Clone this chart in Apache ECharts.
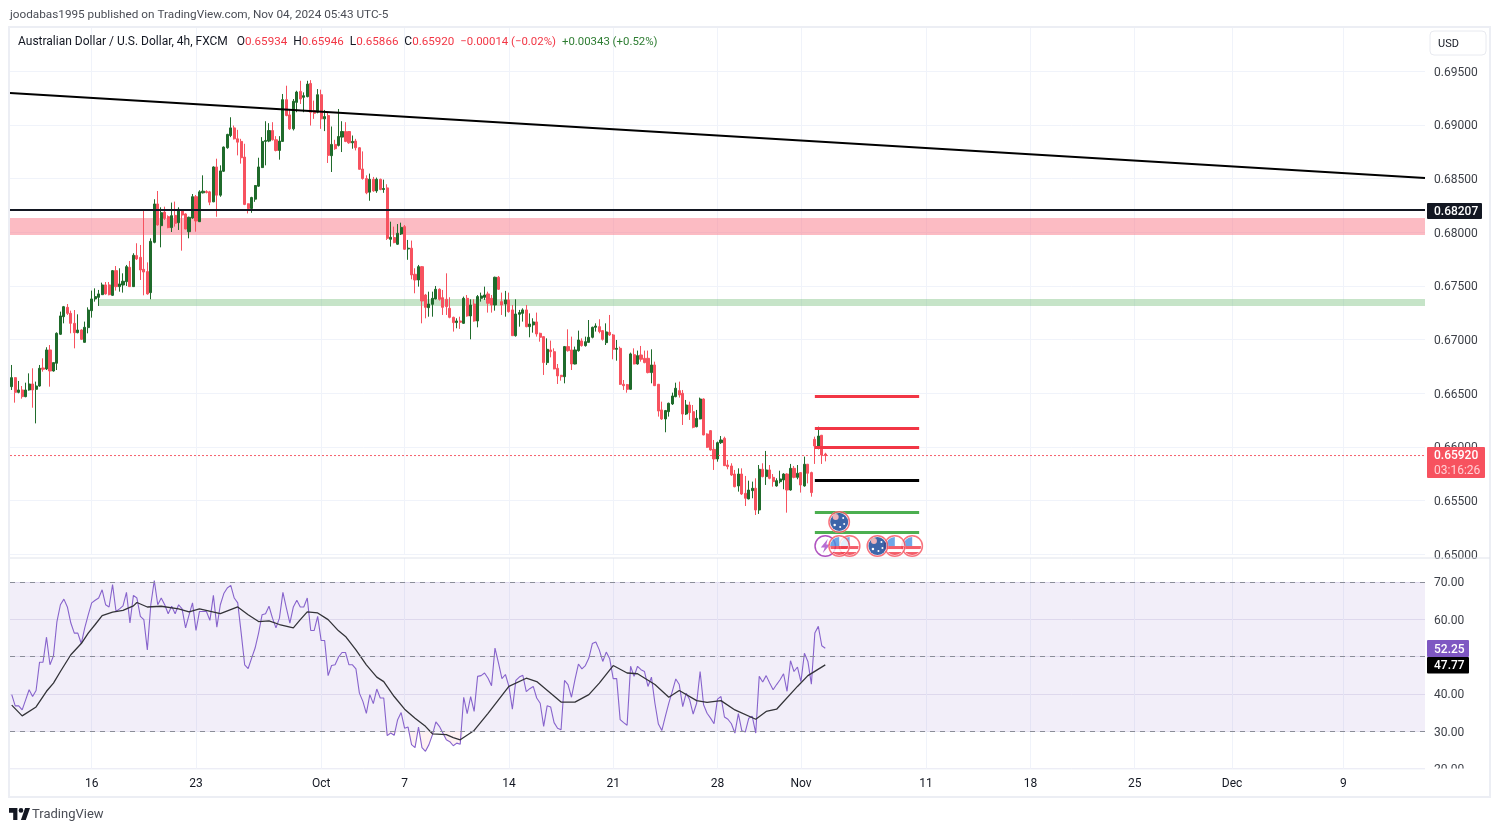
<!DOCTYPE html>
<html>
<head>
<meta charset="utf-8">
<title>AUD/USD 4h</title>
<script src="https://cdn.jsdelivr.net/npm/echarts@6/dist/echarts.min.js"></script>
<style>
  html, body { margin: 0; padding: 0; background: #fff; }
  #chart { width: 1500px; height: 831px; }
</style>
</head>
<body>
<div id="chart"></div>
<script>
// all OHLC prices are in points (1/100000 of a dollar)
const opens = [
  66562,66646,66509,66531,66469,66531,66587,66537,66568,66736,
  66727,66904,66708,66780,67050,67214,67301,67245,67152,67065,
  67090,66975,67112,67270,67379,67394,67419,67510,67510,67413,
  67643,67494,67509,67540,67674,67494,67783,67767,67655,67634,
  67438,67907,68264,68062,68189,68146,68044,68158,68090,68208,
  68171,68006,68133,68332,68099,68368,68380,68377,68284,68609,
  68346,68569,68788,68902,68973,68871,68847,68701,68266,68222,
  68309,68430,68603,68847,68850,68948,68862,68763,68847,69236,
  69094,68964,69211,69313,69258,69264,69387,69134,69119,69282,
  69057,69088,68714,68819,68810,68887,68939,68939,68834,68850,
  68788,68590,68501,68374,68494,68386,68494,68399,68414,67935,
  67951,67889,67985,68053,67845,67852,67609,67556,67680,67416,
  67298,67329,67379,67469,67391,67376,67292,67208,67159,67174,
  67152,67385,67221,67332,67174,67385,67394,67426,67385,67323,
  67581,67354,67332,67370,67277,67037,67236,67245,67277,67121,
  67137,67165,67059,67028,66786,66904,66888,66733,66668,66655,
  66935,66904,66773,66897,66988,66944,66975,67022,67115,67121,
  67084,66972,67068,67044,66910,66919,66584,66581,66537,66860,
  66773,66857,66826,66826,66693,66764,66584,66345,66261,66329,
  66401,66469,66525,66500,66307,66391,66329,66189,66261,66447,
  66121,66152,65978,65888,66040,66081,65832,65823,65748,65637,
  65748,65568,65516,65593,65615,65413,65792,65724,65786,65717,
  65637,65677,65693,65748,65599,65801,65717,65761,65637,65839,
  65761,66071,65988,66109,65934
];
const closes = [
  66646,66509,66531,66469,66531,66587,66531,66568,66733,66724,
  66904,66708,66786,67059,67221,67307,67245,67152,67065,67090,
  67003,67115,67276,67379,67401,67426,67510,67426,67419,67643,
  67494,67519,67544,67680,67494,67786,67752,67649,67630,67426,
  67916,68264,68069,68183,68130,68044,68155,68084,68214,68161,
  68031,68140,68332,68106,68377,68383,68371,68281,68609,68346,
  68572,68794,68912,68973,68871,68840,68695,68260,68222,68324,
  68436,68609,68847,68856,68948,68862,68763,68850,69236,69088,
  68964,69221,69307,69242,69273,69381,69119,69109,69282,69057,
  69078,68717,68819,68779,68893,68939,68847,68834,68847,68788,
  68587,68501,68368,68494,68386,68494,68399,68408,67944,67954,
  67904,67991,68046,67842,67852,67603,67556,67680,67360,67301,
  67332,67385,67469,67376,67301,67308,67208,67159,67174,67162,
  67385,67221,67323,67174,67401,67407,67416,67339,67323,67581,
  67469,67323,67370,67261,67037,67239,67252,67277,67121,67146,
  67165,67053,67022,66786,66910,66888,66727,66662,66655,66935,
  66897,66773,66904,66997,66944,66981,67022,67115,67127,67075,
  67003,67072,67044,66910,66919,66584,66571,66537,66867,66773,
  66851,66817,66786,66693,66764,66571,66335,66261,66339,66407,
  66475,66547,66485,66307,66391,66320,66183,66267,66447,66112,
  65997,65972,65888,66040,66065,65826,65817,65739,65630,65748,
  65562,65522,65599,65615,65413,65792,65724,65786,65708,65677,
  65686,65702,65748,65599,65801,65717,65755,65646,65839,65755,
  65575,66009,66102,65925,65920
];
const lows = [
  66531,66413,66500,66450,66463,66525,66366,66220,66562,66702,
  66717,66562,66702,66717,67043,67152,67230,67059,66919,67059,
  66997,66972,67059,67205,67354,67314,67416,67419,67413,67407,
  67457,67447,67438,67500,67491,67491,67742,67556,67413,67419,
  67376,67898,68062,67860,68115,68038,68003,68053,68022,67829,
  68028,67944,68127,68006,68096,68362,68362,68253,68281,68145,
  68331,68562,68779,68887,68865,68717,68640,68253,68176,68182,
  68284,68423,68599,68624,68840,68856,68754,68677,68844,69081,
  68955,68949,69119,69196,69119,69258,68995,69057,69109,68964,
  68943,68646,68562,68769,68800,68748,68840,68825,68779,68763,
  68584,68491,68355,68294,68377,68368,68392,68368,67929,67867,
  67898,67883,67975,67836,67744,67562,67432,67494,67152,67199,
  67214,67214,67376,67364,67230,67230,67199,67075,67106,67100,
  67146,67214,67003,67168,67115,67354,67370,67252,67252,67270,
  67463,67230,67214,67252,67034,67028,67121,67168,67115,67022,
  67065,67028,66981,66671,66764,66835,66724,66587,66618,66593,
  66888,66717,66770,66888,66935,66935,66972,67012,67075,67059,
  66991,66950,67034,66817,66804,66578,66531,66506,66531,66770,
  66767,66795,66780,66686,66593,66568,66283,66252,66137,66283,
  66391,66463,66460,66205,66298,66252,66174,66183,66258,66109,
  65991,65966,65786,65863,66028,65823,65792,65730,65624,65584,
  65553,65450,65512,65522,65366,65376,65717,65646,65699,65630,
  65630,65661,65606,65388,65593,65708,65699,65575,65630,65661,
  65537,65842,65978,65842,65866
];
const highs = [
  66764,66650,66615,66568,66599,66686,66733,66609,66764,66826,
  66929,66950,66786,67068,67261,67314,67332,67270,67276,67236,
  67096,67168,67301,67457,67478,67463,67531,67537,67537,67649,
  67686,67665,67618,67696,67733,67805,67898,67882,68202,67720,
  67944,68308,68385,68233,68239,68158,68277,68286,68233,68217,
  68177,68146,68357,68348,68392,68531,68392,68386,68615,68686,
  68624,68800,68918,69072,68995,68955,68871,68825,68269,68331,
  68439,68695,68887,69035,69017,69026,68896,68896,69289,69366,
  69149,69242,69319,69412,69304,69412,69418,69227,69335,69329,
  69140,69119,68986,68862,69149,69035,69026,68942,68902,68871,
  68794,68754,68531,68547,68516,68510,68500,68491,68448,68099,
  68053,68077,68090,68068,67929,67923,67665,67696,67686,67426,
  67447,67447,67500,67478,67463,67618,67395,67214,67199,67214,
  67401,67416,67376,67376,67416,67438,67494,67447,67416,67587,
  67593,67438,67454,67438,67323,67376,67277,67292,67323,67245,
  67199,67252,67065,67034,67012,66991,66919,66773,66671,66941,
  67096,67028,66935,67084,67012,67028,67183,67121,67152,67190,
  67090,67152,67230,67053,66997,66935,66624,66587,66879,66919,
  66898,66941,66898,66898,66910,66795,66587,66422,66345,66413,
  66506,66599,66609,66531,66438,66422,66391,66345,66460,66453,
  66127,66158,66065,66050,66102,66096,65879,65848,65786,65801,
  65801,65730,65686,65677,65708,65832,65848,65963,65832,65748,
  65708,65779,65755,65755,65842,65823,65832,65761,65910,65842,
  65770,66096,66189,66112,65946
];
const rsi = [
  39.8,36.8,36.8,35.7,38.4,41.1,39.3,40.9,48.5,48.5,
  55.2,47.8,50.2,59.4,63.9,65.4,63.3,59.0,56.3,56.3,
  53.5,57.7,61.2,64.4,65.1,65.7,67.9,63.9,63.3,69.3,
  62.1,62.8,63.6,67.2,59.0,66.4,65.7,60.8,59.9,51.8,
  63.9,70.4,63.9,65.7,63.9,61.5,63.5,61.5,63.9,62.8,
  57.7,61.2,64.4,57.0,62.1,62.1,62.1,59.7,66.4,57.9,
  63.9,66.9,68.4,69.1,65.7,64.4,56.3,47.8,46.8,49.6,
  52.3,56.3,61.2,61.5,63.5,60.3,57.7,60.3,67.2,63.0,
  59.0,63.3,65.1,63.3,63.3,65.7,57.0,57.0,60.8,54.3,
  54.3,44.9,47.6,47.8,49.9,51.1,51.1,47.8,47.8,46.7,
  40.2,38.0,34.8,39.8,37.4,41.3,38.9,38.9,28.8,29.5,
  28.9,33.1,35.0,30.8,31.1,26.4,25.6,31.1,25.6,24.6,
  26.4,29.0,32.5,31.3,29.5,27.7,27.2,26.1,26.8,26.5,
  39.1,34.7,39.3,35.3,44.7,44.9,45.6,44.2,42.2,52.3,
  48.3,44.1,45.2,42.0,35.9,43.6,44.5,45.0,40.6,41.4,
  42.0,38.9,37.5,31.3,36.8,36.5,32.3,30.8,30.4,43.6,
  42.5,39.1,43.8,48.0,46.7,47.6,49.6,53.5,53.9,51.8,
  48.7,51.2,49.4,44.1,44.1,33.1,32.3,31.6,47.4,44.7,
  47.4,46.5,46.0,42.0,44.5,37.5,31.9,30.2,34.0,37.5,
  40.7,44.0,42.5,36.6,40.2,38.4,34.6,37.5,46.0,37.1,
  34.8,33.5,32.0,38.6,39.3,33.8,33.2,32.0,29.5,34.7,
  30.1,29.8,33.5,34.0,29.5,44.7,43.2,44.9,42.9,41.1,
  42.5,43.8,45.4,40.7,48.9,46.0,47.2,43.3,50.9,48.7,
  42.6,56.3,58.1,52.9,52.25
];
// moving average of the RSI, read at its visible corners
const rsiMaBars = [0,3,7,10,12,14,17,20,22,24,26,29,32,35,36,39,43,48,51,54,60,65,68,71,74,77,81,83,85,88,91,94,96,99,102,105,107,110,113,116,119,121,125,127,129,133,137,140,143,148,151,158,162,166,169,173,177,180,185,189,192,197,200,204,208,214,217,220,226,229,234];
const rsiMaValues = [37.0,34.1,36.5,40.7,42.9,46.0,50.5,53.5,56.3,58.6,61.0,61.9,62.4,63.6,64.5,63.3,63.5,62.8,62.0,62.8,61.5,63.3,61.2,59.4,59.6,58.6,57.7,59.9,62.0,61.7,59.9,56.9,55.4,51.8,47.8,44.5,43.3,39.3,35.9,33.5,31.3,29.3,29.1,28.3,27.7,30.2,34.8,38.4,42.0,44.2,43.3,37.8,37.8,39.8,42.9,47.6,45.6,45.4,42.5,39.1,40.9,38.2,37.7,38.2,35.7,33.2,35.3,35.9,42.0,44.9,47.77];

const barCount = 407;
const tickBars = [23,53,89,113,143,173,203,227,263,293,323,351,383];
const tickLabels = ['16','23','Oct','7','14','21','28','Nov','11','18','25','Dec','9'];

// these run edge to edge of the pane, so they sit on a hidden bar-number axis
const paneEdges = [-0.5, 406.5];
const trendPrices = [0.69298, 0.68506];
const resistanceLevel = 0.68207;
const lastClose = 0.6592;
const redZone = [0.67975, 0.68133];
const greenZone = [0.67313, 0.67378];
const greenZoneStart = 25;

const levelBars = [231, 261];
const levelPrices = [0.66475, 0.66177, 0.65995, 0.65692, 0.65389, 0.65208];
const levelColors = ['#f23645', '#f23645', '#f23645', '#000000', '#4caf50', '#4caf50'];

const eventBars = [238, 241, 234, 238, 259, 254, 249];
const eventPrices = [0.65301, 0.65077, 0.65077, 0.65077, 0.65077, 0.65077, 0.65077];
const eventKinds = ['au', 'us', 'bolt', 'us', 'us', 'us', 'au'];

const svgIcon = inner => 'image://data:image/svg+xml;charset=utf-8,' + encodeURIComponent(
  '<svg xmlns="http://www.w3.org/2000/svg" width="46" height="46" viewBox="0 0 46 46">' + inner + '</svg>');
const usIcon = svgIcon(
  '<defs><clipPath id="c"><circle cx="23" cy="23" r="18"/></clipPath></defs>' +
  '<circle cx="23" cy="23" r="22" fill="#fff"/>' +
  '<g clip-path="url(#c)"><rect width="46" height="46" fill="#fff"/>' +
  '<rect y="23" width="46" height="6" fill="#f23645"/><rect y="35" width="46" height="6" fill="#f23645"/>' +
  '<rect x="4" y="4" width="19" height="19" fill="#4a90e2"/></g>' +
  '<circle cx="23" cy="23" r="20.5" fill="none" stroke="#f7525f" stroke-width="3"/>');
const auIcon = svgIcon(
  '<circle cx="23" cy="23" r="22" fill="#fff"/><circle cx="23" cy="23" r="18" fill="#0f3f94"/>' +
  '<circle cx="16" cy="13" r="6" fill="#e9a0a8"/><circle cx="31" cy="15" r="2" fill="#fff"/>' +
  '<circle cx="33" cy="27" r="2" fill="#fff"/><circle cx="14" cy="29" r="2.5" fill="#fff"/>' +
  '<circle cx="25" cy="33" r="2" fill="#fff"/>' +
  '<circle cx="23" cy="23" r="20.5" fill="none" stroke="#f7525f" stroke-width="3"/>');
const boltIcon = svgIcon(
  '<circle cx="23" cy="23" r="20.5" fill="#fff" stroke="#9c27b0" stroke-width="3"/>' +
  '<path d="M28 9 L14 26 H22 L18 37 L33 20 H25 Z" fill="#a64ac9"/>');
const eventIcons = { us: usIcon, au: auIcon, bolt: boltIcon };

const barNames = Array.from({ length: barCount }, (_, i) => 'b' + i);
const candleData = opens.map((o, i) => [o / 1e5, closes[i] / 1e5, lows[i] / 1e5, highs[i] / 1e5]);
const rsiBelow = rsi.map(v => Math.min(v, 30));
const rsiMaData = rsiMaBars.map((b, i) => [b, rsiMaValues[i]]);

const isTick = i => tickBars.includes(i);
const gridColor = '#f0f3fa';
const textColor = '#3d4048';
const uiFont = 'Roboto, "Open Sans", sans-serif';

const chart = echarts.init(document.getElementById('chart'), null, { renderer: 'canvas' });

const priceTag = (y, h, w, fill, rich, text) => ({
  type: 'group', x: 1427, y: y, z: 100, silent: true,
  children: [
    { type: 'rect', z: 100, shape: { x: 0, y: 0, width: w, height: h, r: 1 }, style: { fill: fill } },
    { type: 'text', z: 101, x: 7, y: h / 2 + 1, style: { text: text, rich: rich, verticalAlign: 'middle', textAlign: 'left',
        font: '500 12px ' + uiFont, fill: '#fff', lineHeight: 15 } }
  ]
});

const edgeLine = (name, prices, lineStyle) => ({
  type: 'line', name: name, xAxisIndex: 2, yAxisIndex: 0, showSymbol: false, silent: true, z: 4,
  data: paneEdges.map((b, i) => [b, prices[i]]),
  lineStyle: lineStyle
});

const option = {
  animation: false,
  backgroundColor: '#ffffff',
  textStyle: { fontFamily: uiFont },
  grid: [
    { left: 10, top: 27, width: 1415, height: 527.3 },
    { left: 10, top: 558, width: 1415, height: 210.5 }
  ],
  xAxis: [
    {
      type: 'category', gridIndex: 0, data: barNames, boundaryGap: true,
      axisLine: { show: false }, axisTick: { show: false }, axisLabel: { show: false },
      splitLine: { show: true, alignWithLabel: true, interval: isTick, lineStyle: { color: gridColor } }
    },
    {
      type: 'category', gridIndex: 1, data: barNames, boundaryGap: true,
      axisLine: { show: false }, axisTick: { show: false },
      axisLabel: {
        show: true, interval: isTick, margin: 9, color: '#131722', fontSize: 12, fontFamily: uiFont,
        formatter: (v, i) => tickLabels[tickBars.indexOf(i)] || ''
      },
      splitLine: { show: true, alignWithLabel: true, interval: isTick, lineStyle: { color: gridColor } }
    },
    { type: 'value', gridIndex: 0, show: false, min: paneEdges[0], max: paneEdges[1], splitLine: { show: false } }
  ],
  yAxis: [
    {
      type: 'value', gridIndex: 0, position: 'right', min: 0.65, max: 0.69913, interval: 0.005,
      axisLine: { show: false }, axisTick: { show: false },
      axisLabel: { margin: 9, color: textColor, fontSize: 12, fontFamily: uiFont, verticalAlign: 'top', lineHeight: 3, showMaxLabel: false, formatter: v => v.toFixed(5) },
      splitLine: { show: true, showMaxLine: false, lineStyle: { color: gridColor } }
    },
    {
      type: 'value', gridIndex: 1, position: 'right', min: 20, max: 76.43, interval: 10,
      axisLine: { show: false }, axisTick: { show: false },
      axisLabel: { margin: 9, color: textColor, fontSize: 12, fontFamily: uiFont, verticalAlign: 'top', lineHeight: 3, showMaxLabel: false, formatter: v => v.toFixed(2) },
      splitLine: { show: true, showMaxLine: false, lineStyle: { color: '#e9e7f2' } }
    }
  ],
  series: [
    {
      type: 'candlestick', name: 'AUDUSD', xAxisIndex: 0, yAxisIndex: 0, data: candleData, barWidth: 2.6,
      itemStyle: { color: '#1f6b2b', color0: '#f7525f', borderColor: '#1f6b2b', borderColor0: '#f7525f', borderWidth: 1 },
      markArea: {
        silent: true,
        data: [
          [{ yAxis: redZone[1], itemStyle: { color: 'rgba(250,120,135,0.5)' } }, { yAxis: redZone[0] }],
          [{ xAxis: greenZoneStart, yAxis: greenZone[1], itemStyle: { color: 'rgba(120,190,125,0.42)' } }, { yAxis: greenZone[0] }]
        ]
      },
      markLine: {
        silent: true, symbol: 'none', animation: false, precision: 5, label: { show: false },
        data: levelPrices.map((p, i) => [
          { coord: [levelBars[0], p], lineStyle: { color: levelColors[i], width: 3, type: 'solid' } },
          { coord: [levelBars[1], p] }
        ])
      }
    },
    edgeLine('Trendline', trendPrices, { color: '#000', width: 2 }),
    edgeLine('Resistance', [resistanceLevel, resistanceLevel], { color: '#131722', width: 2 }),
    edgeLine('Last close', [lastClose, lastClose], { color: '#f23645', width: 1, type: [2, 2], opacity: 0.8 }),
    {
      type: 'scatter', name: 'Events', xAxisIndex: 0, yAxisIndex: 0, clip: false, silent: true, z: 6,
      symbolSize: 23,
      data: eventBars.map((b, i) => ({ value: [b, eventPrices[i]], symbol: eventIcons[eventKinds[i]] }))
    },
    {
      type: 'line', name: 'RSI', xAxisIndex: 1, yAxisIndex: 1, data: rsi, showSymbol: false, silent: true,
      lineStyle: { color: '#8763cc', width: 1.1 },
      markArea: { silent: true, data: [[{ yAxis: 70, itemStyle: { color: 'rgba(126,87,194,0.1)' } }, { yAxis: 30 }]] },
      markLine: {
        silent: true, symbol: 'none', animation: false, label: { show: false },
        lineStyle: { color: '#8a8d98', width: 1, type: [5, 5] },
        data: [{ yAxis: 70 }, { yAxis: 50 }, { yAxis: 30 }]
      }
    },
    {
      type: 'line', name: 'RSI low fill', xAxisIndex: 1, yAxisIndex: 1, data: rsiBelow, showSymbol: false, silent: true,
      lineStyle: { width: 0 }, areaStyle: { origin: 30, color: 'rgba(242,54,69,0.1)' }
    },
    {
      type: 'line', name: 'RSI MA', xAxisIndex: 1, yAxisIndex: 1, data: rsiMaData, showSymbol: false, silent: true,
      lineStyle: { color: '#333338', width: 1.3 }
    }
  ],
  graphic: [
    // cut the 20.00 label at the pane edge like the reference
    { type: 'rect', z: 50, silent: true, shape: { x: 1426, y: 768.5, width: 62, height: 12 }, style: { fill: '#fff' } },
    { type: 'rect', z: 60, silent: true, shape: { x: 9, y: 27, width: 1481, height: 770 }, style: { fill: 'none', stroke: '#eceef4', lineWidth: 2 } },
    { type: 'line', z: 60, silent: true, shape: { x1: 10, y1: 558, x2: 1490, y2: 558 }, style: { stroke: '#e0e3eb', lineWidth: 1 } },
    { type: 'line', z: 60, silent: true, shape: { x1: 10, y1: 769, x2: 1425, y2: 769 }, style: { stroke: '#f0f3fa', lineWidth: 1 } },
    { type: 'text', z: 60, silent: true, x: 10, y: 15, style: { text: 'joodabas1995 published on TradingView.com, Nov 04, 2024 05:43 UTC-5', font: '11.75px ' + uiFont, fill: '#4a4d55', verticalAlign: 'middle' } },
    {
      type: 'text', z: 60, silent: true, x: 18, y: 42,
      style: {
        text: '{t|Australian Dollar / U.S. Dollar, 4h, FXCM}   {t|O}{r|0.65934}  {t|H}{r|0.65946}  {t|L}{r|0.65866}  {t|C}{r|0.65920}  {d|\u22120.00014 (\u22120.02%)}  {g|+0.00343 (+0.52%)}',
        verticalAlign: 'middle', font: '12px ' + uiFont,
        rich: {
          t: { fill: '#131722', font: '12px ' + uiFont },
          r: { fill: '#f23645', font: '11.6px ' + uiFont },
          d: { fill: '#f23645', font: '11.4px ' + uiFont },
          g: { fill: '#2e7d32', font: '11.4px ' + uiFont }
        }
      }
    },
    { type: 'rect', z: 60, silent: true, shape: { x: 1430, y: 31, width: 56, height: 24, r: 4 }, style: { fill: '#fff', stroke: '#e8eaf0', lineWidth: 1 } },
    { type: 'text', z: 61, silent: true, x: 1438, y: 44, style: { text: 'USD', font: '11px ' + uiFont, fill: '#131722', verticalAlign: 'middle' } },
    priceTag(203, 16, 55, '#131722', undefined, '0.68207'),
    priceTag(447, 31, 58, '#f7525f', { a: { fill: '#fff', font: '500 12px ' + uiFont, lineHeight: 15 }, b: { fill: '#ffd0d5', font: '12px ' + uiFont, lineHeight: 15 } }, '{a|0.65920}\n{b|03:16:26}'),
    priceTag(640, 17, 42, '#7e57c2', undefined, '52.25'),
    priceTag(657, 16.5, 42, '#000000', undefined, '47.77'),
    // TradingView mark
    { type: 'polygon', z: 60, silent: true, shape: { points: [[17.4,808],[9,808],[9,812.8],[13.2,812.8],[13.2,820],[17.4,820]] }, style: { fill: '#131722' } },
    { type: 'polygon', z: 60, silent: true, shape: { points: [[25.8,820],[20.9,820],[25.1,808],[30,808]] }, style: { fill: '#131722' } },
    { type: 'circle', z: 60, silent: true, shape: { cx: 21, cy: 810.4, r: 2.3 }, style: { fill: '#131722' } },
    { type: 'text', z: 60, silent: true, x: 32, y: 815, style: { text: 'TradingView', font: '13px ' + uiFont, fill: '#4a4d55', verticalAlign: 'middle' } }
  ]
};
chart.setOption(option);
</script>
</body>
</html>
